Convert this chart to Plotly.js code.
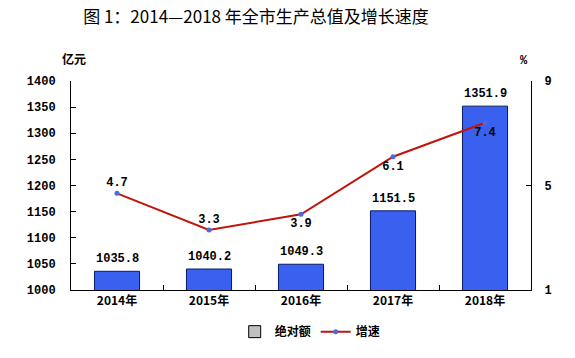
<!DOCTYPE html>
<html>
<head>
<meta charset="utf-8">
<script src="https://cdn.plot.ly/plotly-3.0.1.min.js"></script>
<style>html,body{margin:0;padding:0;background:#fff;}#chart{width:575px;height:358px;}</style>
</head>
<body>
<div id="chart"></div>
<script>
const categories = ['2014年', '2015年', '2016年', '2017年', '2018年'];
const gdpValues = [1035.8, 1040.2, 1049.3, 1151.5, 1351.9];
const growthRates = [4.7, 3.3, 3.9, 6.1, 7.4];
const gdpLabels = ['1035.8', '1040.2', '1049.3', '1151.5', '1351.9'];
const growthLabels = ['4.7', '3.3', '3.9', '6.1', '7.4'];
const leftTicks = [1000, 1050, 1100, 1150, 1200, 1250, 1300, 1350, 1400];
const rightTicks = [1, 5, 9];

const numFont = {family: 'Liberation Mono, DejaVu Sans Mono, monospace', size: 12, color: '#000', weight: 'bold'};
const cjkFont = {family: 'Noto Sans CJK SC, sans-serif', size: 12, color: '#000', weight: 'bold'};

const traces = [
  {
    type: 'bar', x: categories, y: gdpValues, yaxis: 'y', name: '绝对额',
    width: 0.49, showlegend: false,
    marker: {color: '#3a60f0', line: {color: '#0a1a60', width: 1}},
    hoverinfo: 'skip'
  },
  {
    type: 'bar', x: [null], y: [null], yaxis: 'y', name: '绝对额',
    marker: {color: '#c0c0c0', line: {color: '#000', width: 1}},
    hoverinfo: 'skip'
  },
  {
    type: 'scatter', mode: 'lines+markers+text', x: categories, y: growthRates, yaxis: 'y2', name: '增速',
    line: {color: '#c0140c', width: 2},
    marker: {color: '#4a6ae0', size: 5},
    text: growthLabels,
    textposition: ['top center', 'top center', 'bottom center', 'bottom center', 'bottom center'],
    textfont: numFont,
    hoverinfo: 'skip'
  }
];

const annotations = categories.map((c, i) => ({
  x: c, y: gdpValues[i], xref: 'x', yref: 'y', text: gdpLabels[i],
  showarrow: false, yanchor: 'bottom', yshift: 3, font: numFont
}));
const W = 575, H = 358, ml = 71, mr = 44, mt = 81, mb = 65;
const pw = W - ml - mr, ph = H - mt - mb;
annotations.push({x: (60 - ml) / pw, y: (H - mb - 48) / ph, xref: 'paper', yref: 'paper', text: '亿元',
  showarrow: false, font: cjkFont});
annotations.push({x: (530 - ml) / pw, y: (H - mb - 52) / ph, xref: 'paper', yref: 'paper', text: '%',
  showarrow: false, font: numFont});

const layout = {
  width: W, height: H,
  margin: {l: ml, r: mr, t: mt, b: mb, pad: 0},
  paper_bgcolor: '#fff', plot_bgcolor: '#fff',
  title: {
    text: '图 1：2014—2018 年全市生产总值及增长速度',
    font: {family: 'Noto Sans CJK SC, sans-serif', size: 17, color: '#000'},
    x: 256 / W, xanchor: 'center', xref: 'container', y: 1 - 17 / H, yanchor: 'middle', yref: 'container'
  },
  barmode: 'overlay',
  showlegend: true,
  legend: {orientation: 'h', x: 0.52, xanchor: 'center', y: -0.13, yanchor: 'top',
    font: cjkFont, itemwidth: 30, traceorder: 'normal'},
  xaxis: {
    type: 'category', showline: true, linecolor: '#000', linewidth: 1,
    ticks: 'inside', tickson: 'boundaries', ticklen: 5, tickcolor: '#000',
    tickfont: cjkFont, showgrid: false, zeroline: false, fixedrange: true
  },
  yaxis: {
    range: [1000, 1400], tickvals: leftTicks, showline: true, linecolor: '#000', linewidth: 1,
    ticks: 'inside', ticklen: 5, tickcolor: '#000', tickfont: numFont, ticklabelstandoff: 12,
    showgrid: false, zeroline: false
  },
  yaxis2: {
    range: [1, 9], tickvals: rightTicks, overlaying: 'y', side: 'right',
    showline: true, linecolor: '#000', linewidth: 1,
    ticks: 'inside', ticklen: 5, tickcolor: '#000', tickfont: numFont, ticklabelstandoff: 10,
    showgrid: false, zeroline: false
  },
  annotations: annotations
};

Plotly.newPlot('chart', traces, layout, {staticPlot: true, displayModeBar: false});
</script>
</body>
</html>
